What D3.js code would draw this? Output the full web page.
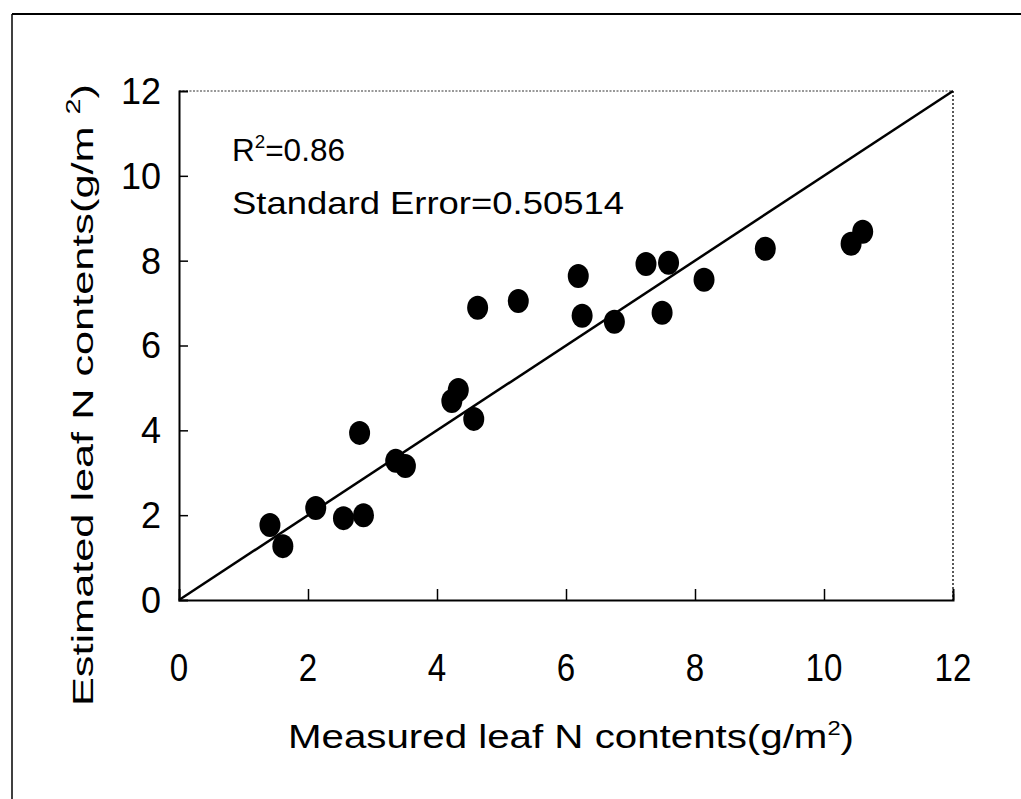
<!DOCTYPE html>
<html>
<head>
<meta charset="utf-8">
<script src="https://cdn.jsdelivr.net/npm/d3@7"></script>
<style>
  body { margin: 0; background: #fff; }
  text { font-family: "Liberation Sans", Arial, sans-serif; fill: #000; }
</style>
</head>
<body>
<div id="chart"></div>
<script>
// measured vs estimated leaf N (g/m2)
const measured  = [1.41, 1.61, 2.12, 2.55, 2.86, 2.80, 3.36, 3.51, 4.23, 4.33, 4.57, 4.63, 5.26, 6.19, 6.25, 6.75, 7.24, 7.59, 7.49, 8.14, 9.09, 10.42, 10.60];
const estimated = [1.77, 1.27, 2.17, 1.93, 2.00, 3.94, 3.28, 3.16, 4.69, 4.95, 4.27, 6.89, 7.05, 7.64, 6.70, 6.56, 7.92, 7.95, 6.77, 7.55, 8.28, 8.40, 8.68];
const xTicks = [0, 2, 4, 6, 8, 10, 12];
const yTicks = [0, 2, 4, 6, 8, 10, 12];
const oneToOne = [[0, 0], [12, 12]];

const W = 1021, H = 799;
const svg = d3.select("#chart").append("svg")
    .attr("width", W).attr("height", H);

// page frame (scanned figure border)
svg.append("line").attr("x1", 12).attr("y1", 14).attr("x2", 12).attr("y2", H)
    .attr("stroke", "#000").attr("stroke-width", 1.5);
svg.append("line").attr("x1", 12).attr("y1", 14).attr("x2", W).attr("y2", 14)
    .attr("stroke", "#000").attr("stroke-width", 2);

const x = d3.scaleLinear().domain([0, 12]).range([179, 953]);
const y = d3.scaleLinear().domain([0, 12]).range([600, 91]);

// top & right dotted frame
svg.append("line").attr("x1", x(0)).attr("y1", y(12)).attr("x2", x(12)).attr("y2", y(12))
    .attr("stroke", "#333").attr("stroke-width", 1.2).attr("stroke-dasharray", "2 1.5");
svg.append("line").attr("x1", x(12)).attr("y1", y(12)).attr("x2", x(12)).attr("y2", y(0))
    .attr("stroke", "#222").attr("stroke-width", 1.5).attr("stroke-dasharray", "2 2");

// axes with inward ticks
const xAxis = svg.append("g").attr("transform", `translate(0,${y(0)})`)
    .call(d3.axisTop(x).tickValues(xTicks.slice(1)).tickSize(11).tickFormat(""));
const yAxis = svg.append("g").attr("transform", `translate(${x(0)},0)`)
    .call(d3.axisRight(y).tickValues(yTicks.slice(1, -1)).tickSize(9).tickFormat(""));
[xAxis, yAxis].forEach(g => {
    g.select(".domain").attr("stroke", "#000").attr("stroke-width", 2);
    g.selectAll(".tick line").attr("stroke", "#000").attr("stroke-width", 1.5);
});
xAxis.select(".tick:last-of-type line").attr("y2", -6);

// tick labels (x ones are a bit condensed in the scan)
svg.append("g").selectAll("text").data(xTicks).join("text")
    .attr("transform", d => `translate(${x(d)},681) scale(0.85,1)`)
    .attr("text-anchor", "middle").style("font-size", "39px")
    .text(d => d);
svg.append("g").selectAll("text").data(yTicks).join("text")
    .attr("x", 161).attr("y", d => y(d)).attr("dy", "0.36em")
    .attr("text-anchor", "end").style("font-size", "36px")
    .text(d => d);

// 1:1 line
svg.append("path").datum(oneToOne)
    .attr("d", d3.line().x(d => x(d[0])).y(d => y(d[1])))
    .attr("stroke", "#000").attr("stroke-width", 2.5).attr("fill", "none");

// points
svg.append("g").selectAll("ellipse").data(measured.map((m, i) => [m, estimated[i]])).join("ellipse")
    .attr("cx", d => x(d[0])).attr("cy", d => y(d[1]))
    .attr("rx", 10.5).attr("ry", 12).attr("fill", "#000");

// annotations
const r2 = svg.append("text").attr("x", 232).attr("y", 161).style("font-size", "32px")
    .attr("textLength", 113).attr("lengthAdjust", "spacingAndGlyphs");
r2.append("tspan").text("R");
r2.append("tspan").attr("dy", -13).style("font-size", "19px").text("2");
r2.append("tspan").attr("dy", 13).text("=0.86");
svg.append("text").attr("x", 232).attr("y", 214).style("font-size", "32px")
    .attr("textLength", 392).attr("lengthAdjust", "spacingAndGlyphs")
    .text("Standard  Error=0.50514");

// x title
const xt = svg.append("text").attr("x", 288).attr("y", 748).style("font-size", "34px")
    .attr("textLength", 566).attr("lengthAdjust", "spacingAndGlyphs");
xt.append("tspan").text("Measured leaf N contents(g/m");
xt.append("tspan").attr("dy", -13).style("font-size", "20px").text("2");
xt.append("tspan").attr("dy", 13).text(")");

// y title
const yt = svg.append("text").attr("transform", "translate(93,706) rotate(-90)")
    .style("font-size", "30px")
    .attr("textLength", 622).attr("lengthAdjust", "spacingAndGlyphs");
yt.append("tspan").text("Estimated leaf N contents(g/m      ");
yt.append("tspan").attr("dy", -13).style("font-size", "20px").text("2");
yt.append("tspan").attr("dy", 13).text(")");
</script>
</body>
</html>
